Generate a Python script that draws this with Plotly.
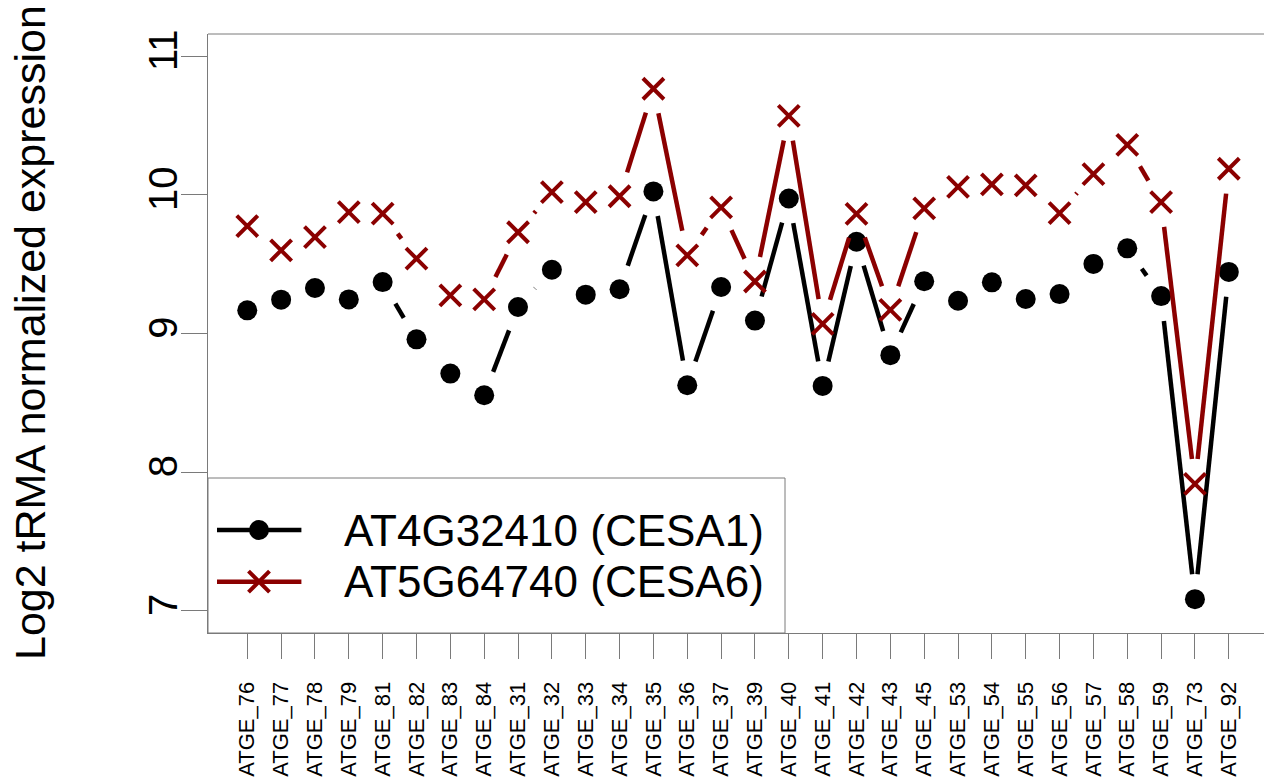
import math
import plotly.graph_objects as go

categories = ["ATGE_76", "ATGE_77", "ATGE_78", "ATGE_79", "ATGE_81", "ATGE_82",
              "ATGE_83", "ATGE_84", "ATGE_31", "ATGE_32", "ATGE_33", "ATGE_34",
              "ATGE_35", "ATGE_36", "ATGE_37", "ATGE_39", "ATGE_40", "ATGE_41",
              "ATGE_42", "ATGE_43", "ATGE_45", "ATGE_53", "ATGE_54", "ATGE_55",
              "ATGE_56", "ATGE_57", "ATGE_58", "ATGE_59", "ATGE_73", "ATGE_92"]

cesa1 = [9.167, 9.244, 9.328, 9.246, 9.371, 8.958, 8.711, 8.555, 9.191, 9.460,
         9.280, 9.319, 10.025, 8.627, 9.335, 9.093, 9.974, 8.622, 9.662, 8.844,
         9.377, 9.236, 9.369, 9.249, 9.284, 9.502, 9.614, 9.270, 7.084, 9.444]

cesa6 = [9.775, 9.600, 9.695, 9.876, 9.864, 9.540, 9.275, 9.246, 9.730, 10.020,
         9.948, 9.990, 10.765, 9.564, 9.910, 9.375, 10.569, 9.070, 9.863, 9.170,
         9.902, 10.057, 10.075, 10.068, 9.868, 10.150, 10.360, 9.948, 7.916, 10.188]

series_names = ["AT4G32410 (CESA1)", "AT5G64740 (CESA6)"]
yticks = [7, 8, 9, 10, 11]

W, H = 1264, 782
ML, MR, MT, MB = 208, 0, 34, 149
XR = [-0.16, 31.04]
YR = [6.84, 11.16]
kx = (W - ML - MR) / (XR[1] - XR[0])
ky = (H - MT - MB) / (YR[1] - YR[0])

BLACK = "#000000"
RED = "#8B0000"
AXC = "#7a7a7a"
FONT = "Liberation Sans, Arial, sans-serif"


def gapped(xs, ys, gap=25.0):
    """Segments between consecutive points, shortened by `gap` pixels at each end (R type='b')."""
    sx, sy = [], []
    for i in range(len(xs) - 1):
        dxp = (xs[i + 1] - xs[i]) * kx
        dyp = (ys[i + 1] - ys[i]) * ky
        L = math.hypot(dxp, dyp)
        if L > 2 * gap:
            f = gap / L
            dx = xs[i + 1] - xs[i]
            dy = ys[i + 1] - ys[i]
            sx += [xs[i] + f * dx, xs[i + 1] - f * dx, None]
            sy += [ys[i] + f * dy, ys[i + 1] - f * dy, None]
    return sx, sy


def marker_style(sym, color):
    if sym == "circle":
        return dict(symbol="circle", size=20, color=color, line=dict(width=0))
    return dict(symbol="x-thin-open", size=21, color=color,
                line=dict(color=color, width=4))


xs = list(range(1, len(categories) + 1))

fig = go.Figure()

for ys, color, sym in [(cesa1, BLACK, "circle"), (cesa6, RED, "x-thin-open")]:
    lx, ly = gapped(xs, ys)
    fig.add_trace(go.Scatter(x=lx, y=ly, mode="lines",
                             line=dict(color=color, width=4.5),
                             hoverinfo="skip", showlegend=False))
    fig.add_trace(go.Scatter(x=xs, y=ys, mode="markers", marker=marker_style(sym, color),
                             hoverinfo="skip", showlegend=False))

# manual legend (R style) on an overlay axis in [0,1] units
PW = W - ML - MR
PH = H - MT - MB
leg_x0 = (217 - ML) / PW
leg_x1 = (301.4 - ML) / PW
leg_xm = (259 - ML) / PW
leg_rows = [(H - MB - 530) / PH, (H - MB - 581.7) / PH]
leg_right = (785 - ML) / PW
leg_top = (H - MB - 478) / PH

fig.add_shape(type="rect", xref="paper", yref="paper", x0=0, x1=leg_right,
              y0=0, y1=leg_top, line=dict(color=AXC, width=1),
              fillcolor="white", layer="below")

for (name, color, sym), ly in zip(
        [(series_names[0], BLACK, "circle"), (series_names[1], RED, "x-thin-open")],
        leg_rows):
    fig.add_trace(go.Scatter(x=[leg_x0, leg_x1], y=[ly, ly], mode="lines",
                             line=dict(color=color, width=4.5),
                             xaxis="x2", yaxis="y2", hoverinfo="skip", showlegend=False))
    fig.add_trace(go.Scatter(x=[leg_xm], y=[ly], mode="markers",
                             marker=marker_style(sym, color),
                             xaxis="x2", yaxis="y2", hoverinfo="skip", showlegend=False))
    fig.add_annotation(text=name, xref="paper", yref="paper",
                       x=(341.6 - ML) / PW, y=ly,
                       xanchor="left", yanchor="middle", showarrow=False,
                       font=dict(size=44, color="black", family=FONT))

# top border of the box
fig.add_shape(type="line", xref="paper", yref="paper", x0=0, x1=1, y0=1, y1=1,
              line=dict(color=AXC, width=1))

# y-axis title
fig.add_annotation(text="Log2 tRMA normalized expression", xref="paper", yref="paper",
                   x=(30 - ML) / PW, y=(H - MB - 333) / PH,
                   xanchor="center", yanchor="middle", textangle=-90, showarrow=False,
                   font=dict(size=43, color="black", family=FONT))

fig.update_layout(
    width=W, height=H,
    margin=dict(l=ML, r=MR, t=MT, b=MB, pad=0),
    paper_bgcolor="white", plot_bgcolor="white",
    showlegend=False,
    font=dict(family=FONT, color="black"),
    xaxis=dict(range=XR, tickmode="array", tickvals=xs, ticktext=categories,
               tickangle=-90, ticks="outside", ticklen=25, tickwidth=1, tickcolor=AXC,
               tickfont=dict(size=22, family=FONT, color="black"),
               ticklabelstandoff=14,
               showline=True, linecolor=AXC, linewidth=1, mirror=False,
               showgrid=False, zeroline=False),
    yaxis=dict(range=YR, tickmode="array", tickvals=yticks,
               ticktext=[str(v) for v in yticks],
               tickangle=-90, ticks="outside", ticklen=26, tickwidth=1, tickcolor=AXC,
               tickfont=dict(size=40, family=FONT, color="black"),
               ticklabelstandoff=-12,
               showline=True, linecolor=AXC, linewidth=1, mirror=False,
               showgrid=False, zeroline=False),
    xaxis2=dict(overlaying="x", range=[0, 1], visible=False),
    yaxis2=dict(overlaying="y", range=[0, 1], visible=False),
)

fig.write_html("out.html")
